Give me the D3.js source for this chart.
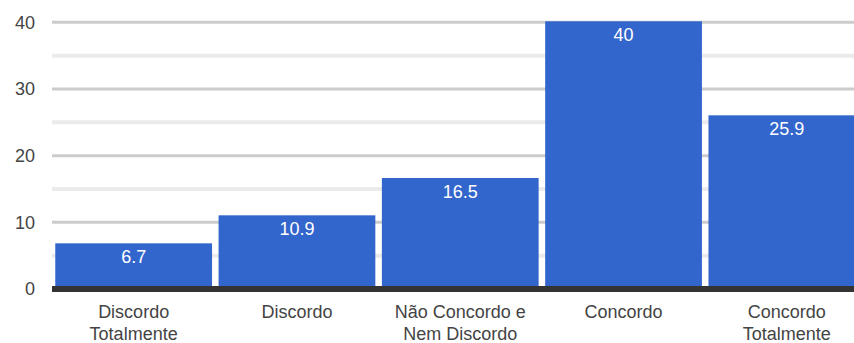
<!DOCTYPE html>
<html>
<head>
<meta charset="utf-8">
<script src="https://cdn.jsdelivr.net/npm/d3@7"></script>
<style>
  html, body { margin: 0; padding: 0; background: #fff; }
  svg { display: block; }
  text { font-family: Arial, "Liberation Sans", sans-serif; }
</style>
</head>
<body>
<svg id="chart" width="854" height="343"></svg>
<script>
const categories = [
  ["Discordo", "Totalmente"],
  ["Discordo"],
  ["Não Concordo e", "Nem Discordo"],
  ["Concordo"],
  ["Concordo", "Totalmente"]
];
const values = [6.7, 10.9, 16.5, 40, 25.9];
const valueLabels = ["6.7", "10.9", "16.5", "40", "25.9"];
const majorTicks = [0, 10, 20, 30, 40];
const minorTicks = [5, 15, 25, 35];

const W = 854, H = 343;
const svg = d3.select("#chart");
const keys = categories.map(c => c.join(" "));

const y = d3.scaleLinear().domain([0, 40]).range([289, 22.3]);
const x = d3.scaleBand().domain(keys).range([52, 52 + 5 * 163.3])
  .paddingInner(0.04).paddingOuter(0.02);

const plotLeft = 52, plotRight = W;

// minor gridlines
svg.append("g").selectAll("line").data(minorTicks).join("line")
  .attr("x1", plotLeft).attr("x2", plotRight)
  .attr("y1", d => y(d)).attr("y2", d => y(d))
  .attr("stroke", "#ebebeb").attr("stroke-width", 4);

// major gridlines
svg.append("g").selectAll("line").data(majorTicks.filter(d => d > 0)).join("line")
  .attr("x1", plotLeft).attr("x2", plotRight)
  .attr("y1", d => y(d)).attr("y2", d => y(d))
  .attr("stroke", "#cccccc").attr("stroke-width", 3);

// y axis labels
const yAxis = d3.axisLeft(y).tickValues(majorTicks).tickSize(0).tickPadding(0);
const ya = svg.append("g").attr("transform", "translate(35,0)").call(yAxis);
ya.select(".domain").remove();
ya.selectAll("text").attr("font-size", 18).attr("fill", "#444")
  .attr("font-family", "Arial, 'Liberation Sans', sans-serif");

// bars
svg.append("g").selectAll("rect").data(values).join("rect")
  .attr("x", (d, i) => x(keys[i]))
  .attr("width", x.bandwidth())
  .attr("y", d => y(d) - 1)
  .attr("height", d => y(0) - y(d) + 1)
  .attr("fill", "#3366cc");

// baseline
svg.append("line")
  .attr("x1", plotLeft).attr("x2", plotRight)
  .attr("y1", y(0)).attr("y2", y(0))
  .attr("stroke", "#333").attr("stroke-width", 6);

// value labels
svg.append("g").selectAll("text").data(values).join("text")
  .attr("x", (d, i) => x(keys[i]) + x.bandwidth() / 2)
  .attr("y", d => y(d) + 13)
  .attr("text-anchor", "middle")
  .attr("dominant-baseline", "central")
  .attr("font-size", 18)
  .attr("fill", "#fff")
  .text((d, i) => valueLabels[i]);

// category labels
const xa = svg.append("g");
categories.forEach((lines, i) => {
  const t = xa.append("text")
    .attr("x", x(keys[i]) + x.bandwidth() / 2)
    .attr("text-anchor", "middle")
    .attr("font-size", 18)
    .attr("fill", "#444");
  lines.forEach((ln, j) => {
    t.append("tspan")
      .attr("x", x(keys[i]) + x.bandwidth() / 2)
      .attr("y", 312 + j * 22)
      .attr("dominant-baseline", "central")
      .text(ln);
  });
});
</script>
</body>
</html>
